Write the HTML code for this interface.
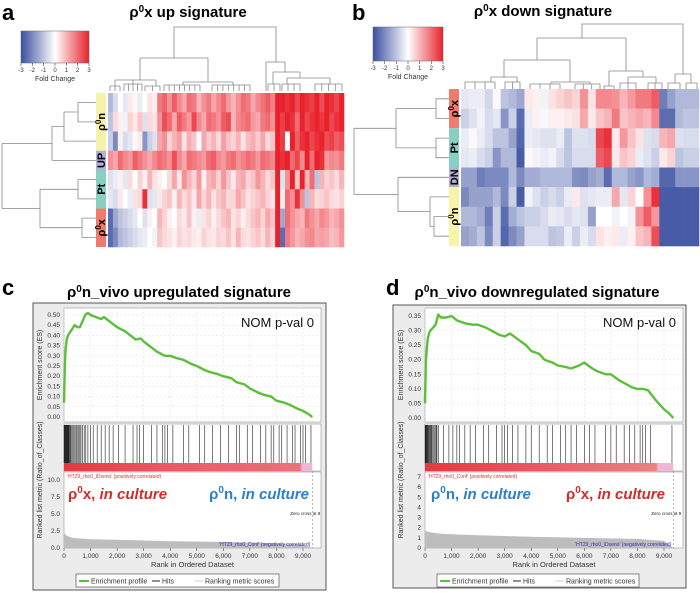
<!DOCTYPE html>
<html><head><meta charset="utf-8">
<style>
html,body{margin:0;padding:0;background:#fff;}
svg{display:block;font-family:"Liberation Sans",Arial,sans-serif;}
</style></head>
<body>
<svg id="fig" width="700" height="593" viewBox="0 0 700 593" xmlns="http://www.w3.org/2000/svg">
<defs>
<linearGradient id="keyGrad" x1="0" x2="1" y1="0" y2="0">
<stop offset="0" stop-color="#3a4fa0"/><stop offset="0.5" stop-color="#ffffff"/><stop offset="1" stop-color="#e8222c"/>
</linearGradient>
<linearGradient id="barGradC" x1="0" x2="1"><stop offset="0" stop-color="#e23a3e"/><stop offset="0.4" stop-color="#e85a62"/><stop offset="0.95" stop-color="#ec7078"/><stop offset="0.96" stop-color="#f0b8d8"/><stop offset="1" stop-color="#f0b8d8"/></linearGradient>
<linearGradient id="barGradD" x1="0" x2="1"><stop offset="0" stop-color="#e23a3e"/><stop offset="0.45" stop-color="#e85a62"/><stop offset="0.93" stop-color="#ee8080"/><stop offset="0.94" stop-color="#f0b8d8"/><stop offset="1" stop-color="#f0b8d8"/></linearGradient>
</defs>

<text x="2" y="20" font-size="22" font-weight="bold">a</text>
<text x="352" y="20" font-size="22" font-weight="bold">b</text>
<text x="2" y="295" font-size="22" font-weight="bold">c</text>
<text x="386" y="295" font-size="22" font-weight="bold">d</text>
<text x="188" y="17" font-size="15" font-weight="bold" text-anchor="middle">ρ<tspan font-size="10" dy="-5">0</tspan><tspan dy="5">x up signature</tspan></text>
<text x="543" y="16" font-size="15" font-weight="bold" text-anchor="middle">ρ<tspan font-size="10" dy="-5">0</tspan><tspan dy="5">x down signature</tspan></text>
<text x="179" y="297" font-size="15" font-weight="bold" text-anchor="middle">ρ<tspan font-size="10" dy="-5">0</tspan><tspan dy="5">n_vivo upregulated signature</tspan></text>
<text x="537" y="297" font-size="15" font-weight="bold" text-anchor="middle">ρ<tspan font-size="10" dy="-5">0</tspan><tspan dy="5">n_vivo downregulated signature</tspan></text>

<g id="heatA"></g>
<g id="heatB"></g>
<g id="gseaC"></g>
<g id="gseaD"></g>
</svg>

<script>
// ---------- Heatmap data ----------
const heatARows = [
[-1.2,-0.6,0,-0.4,0.3,0.1,-0.3,0,0.4,0.2,1.8,2.1,1.5,2.2,1.6,1.2,2.0,1.8,1.0,1.5,1.8,1.2,1.6,2.0,1.4,1.0,1.5,2.0,1.8,1.2,1.6,1.9,2.2,1.7,3.0,3.0,2.8,3.0,2.5,3.0,2.8,2.6,3.0,2.4,3.0,2.8,2.5,3.0],
[-1.0,0.5,0.2,-0.2,0.6,0.3,0.8,-0.5,0.5,0.4,1.5,2.4,2.0,1.2,2.2,1.8,1.4,2.5,1.6,1.2,2.0,1.8,1.5,2.2,2.4,1.0,1.6,1.8,2.0,1.4,1.2,1.8,2.0,1.5,3.0,2.6,3.0,2.8,2.0,3.0,2.5,2.8,3.0,2.7,3.0,2.5,2.8,3.0],
[-0.8,-2.0,0.2,-0.6,-0.4,0.1,0.3,-1.8,-0.8,-0.5,1.2,1.5,0.6,1.0,1.3,0.4,1.1,0.8,0.0,1.2,0.7,1.0,0.5,1.3,0.8,0.6,1.0,0.4,0.9,1.1,0.7,1.2,0.5,0.8,3.0,2.6,0.0,3.0,2.2,2.8,3.0,2.5,2.8,3.0,2.4,2.6,2.2,2.4],
[1.5,1.2,2.0,1.6,1.4,2.2,1.8,1.5,1.2,1.6,2.0,1.8,1.5,2.4,1.6,1.2,2.0,1.8,1.6,1.4,2.0,2.2,1.6,1.4,1.8,2.0,1.5,1.7,2.0,1.8,1.4,2.0,1.8,1.6,3.0,2.8,3.0,2.0,2.5,1.6,3.0,2.0,3.0,2.8,1.4,1.6,1.5,1.8],
[-0.5,-0.3,0.2,-0.4,0.5,0.0,0.6,0.2,1.0,0.4,0.2,0.0,0.5,1.2,0.3,1.5,1.0,0.6,1.4,0.2,1.0,1.2,0.6,1.4,0.8,0.3,1.0,1.2,0.6,0.8,1.4,1.0,0.5,0.8,3.0,-0.5,1.5,3.0,0.8,3.0,1.0,2.0,-1.0,1.0,0.6,0.8,0.5,1.0],
[-0.4,-0.6,0.3,0.0,-0.3,0.4,0.5,2.8,-0.5,-0.4,0.3,0.6,0.8,0.2,1.0,0.5,0.8,0.3,1.2,0.6,1.0,0.4,0.8,1.0,0.5,0.6,1.2,0.8,0.4,0.6,0.8,1.0,0.6,0.4,3.0,0.3,2.0,1.5,2.8,1.5,-1.0,1.0,0.5,0.6,0.8,0.5,0.4,0.6],
[-2.5,-1.5,-1.0,-0.8,-0.6,-0.4,0.0,-0.5,0.2,0.0,1.0,0.6,0.2,0.0,0.5,0.3,0.8,0.2,-0.3,0.4,0.6,0.2,0.5,0.8,1.0,0.4,0.6,0.2,0.5,0.8,1.0,0.6,1.2,0.8,3.0,-1.5,2.0,1.5,1.2,1.0,1.8,1.5,1.2,1.6,1.4,1.0,1.2,1.5],
[-2.5,-2.0,-1.2,-1.0,-0.8,-0.6,-0.4,-0.3,0.0,-0.2,0.8,0.5,0.4,0.2,0.6,0.4,0.5,0.3,0.2,0.6,0.4,0.3,0.6,0.5,0.8,0.4,1.0,0.5,0.4,0.6,0.8,0.5,1.0,0.6,3.0,-2.5,1.8,1.4,1.0,1.2,1.5,1.6,1.2,1.3,1.2,0.9,1.0,1.4]
];
const heatAGroups = ["ρ0n","UP","Pt","ρ0x"];
const heatAGroupSizes = [3,1,2,2];
const heatBRows = [
[-0.4,-0.3,-0.3,-0.7,0.1,-1.0,-1.2,-1.5,0.3,0.2,-0.2,0.4,0.6,0.8,0.6,1.5,0.4,1.6,1.6,1.5,1.0,1.4,1.8,1.8,2.2,-2.2,-1.6,-1.2,-1.2,-1.2],
[-0.8,-0.5,-0.2,-0.6,-0.4,-1.8,-0.8,-2.5,-0.3,0.2,-0.1,0.2,0.2,0.3,0.4,1.2,0.3,0.8,1.0,1.8,0.8,1.0,1.2,1.0,1.6,-2.5,-2.5,-1.2,-1.0,-1.0],
[-0.3,0.1,-0.3,-0.6,-1.0,-1.0,-1.6,-2.6,-0.3,-0.4,-0.5,-0.5,-0.3,-1.0,-0.5,-0.5,-0.6,2.5,2.8,0.3,1.4,0.8,0.4,-0.5,-0.6,1.0,1.2,-0.5,-0.6,-0.6],
[-0.4,-0.3,-0.6,-0.8,-1.8,-1.2,-1.2,-2.8,0.1,-0.2,-0.3,-0.2,-0.6,-1.0,-0.6,-0.6,-0.6,2.2,2.5,0.3,0.8,0.6,-0.3,-0.5,-0.8,0.3,0.6,-1.0,-0.8,-0.8],
[-1.6,-1.6,-2.2,-2.0,-2.0,-2.0,-1.2,-2.0,-1.4,-1.4,-1.2,-1.2,-1.2,-1.2,-1.9,-2.0,-1.6,-1.4,-2.5,-1.2,-1.2,-1.6,-1.8,-1.2,-1.4,-2.6,-2.6,-1.8,-1.8,-1.8],
[-2.0,-1.6,-1.6,-1.6,-1.2,-2.0,-0.8,-2.8,-0.2,-0.5,-0.8,-0.6,-0.8,-0.3,0.3,-0.5,-0.4,-0.3,-0.3,1.2,-0.4,0.6,0.0,1.5,2.8,-2.8,-2.8,-2.8,-2.8,-2.8],
[-1.2,-1.2,-1.4,-2.2,-0.8,-2.5,-1.4,-1.0,-0.8,-0.8,-0.6,-0.3,-0.4,-0.6,-0.4,-0.5,-1.6,0.0,0.0,-0.2,0.0,-0.2,1.5,2.2,1.4,-2.8,-2.8,-2.8,-2.8,-2.8],
[-1.6,-1.4,-1.0,-2.0,-0.8,-2.6,-2.0,-1.6,-0.6,-0.6,-0.6,-1.0,-0.9,-0.3,-0.8,-0.3,-0.6,0.4,0.2,0.3,-0.3,0.2,0.8,1.0,2.4,-2.8,-2.8,-2.8,-2.8,-2.8]
];
const heatBGroups = ["ρ0x","Pt","DN","ρ0n"];
const heatBGroupSizes = [2,2,1,3];
const keyTicks = [-3,-2,-1,0,1,2,3];

// ---------- GSEA data ----------
const esRanksC = [0,30,60,100,150,200,300,400,500,600,700,800,900,1000,1200,1400,1500,1700,2000,2300,2500,2700,2900,3000,3300,3500,3800,4000,4200,4500,4800,5000,5300,5500,5800,6000,6300,6500,6800,7000,7300,7500,7800,8000,8300,8500,8800,9000,9200,9350];
const esValuesC = [0.07,0.25,0.33,0.38,0.40,0.41,0.43,0.45,0.44,0.44,0.47,0.50,0.51,0.50,0.49,0.48,0.49,0.47,0.44,0.42,0.40,0.38,0.385,0.37,0.34,0.32,0.30,0.30,0.29,0.28,0.26,0.25,0.23,0.22,0.21,0.20,0.19,0.17,0.16,0.14,0.12,0.11,0.10,0.08,0.07,0.06,0.04,0.03,0.015,0.0];
const esRanksD = [0,30,60,100,150,200,300,400,500,600,800,1000,1200,1500,1800,2000,2300,2500,2800,3000,3200,3500,3800,4000,4300,4500,4800,5000,5300,5500,5800,6000,6300,6500,6800,7000,7300,7500,7800,8000,8200,8400,8700,9000,9200,9350];
const esValuesD = [0.05,0.19,0.23,0.27,0.29,0.30,0.31,0.32,0.355,0.345,0.345,0.35,0.335,0.325,0.32,0.32,0.31,0.30,0.285,0.28,0.29,0.27,0.25,0.23,0.22,0.20,0.19,0.18,0.175,0.17,0.18,0.19,0.17,0.16,0.15,0.15,0.13,0.12,0.105,0.10,0.10,0.095,0.06,0.03,0.015,0.0];
const hitsC = [5,15,25,35,45,55,70,85,100,120,140,160,180,200,230,260,300,340,380,420,470,520,560,600,640,700,760,820,900,1000,1100,1250,1400,1550,1700,1850,2050,2300,2600,2750,2850,3000,3300,3500,3700,3800,3900,4100,4500,4700,5100,5300,5600,5900,6200,6500,6600,6900,7100,7400,7600,7800,7900,8100,8200,8400,8600,8700,8900,9000,9100,9300];
const hitsD = [5,15,25,35,45,60,75,90,110,130,150,170,200,230,260,300,340,380,420,450,500,700,900,1050,1200,1300,1500,1700,1900,2200,2400,2700,2900,3000,3100,3300,3500,3800,4000,4300,4600,4800,5100,5300,5500,5700,6000,6200,6400,6800,7000,7200,7500,7700,7900,8100,8200,8300,8500,9300];
const metricRanks = [0,100,300,600,1000,2000,4000,6000,8000,9000,9350];
const metricC = [2.2,1.8,1.5,1.4,1.3,1.2,1.0,0.9,0.7,0.5,0.0];
const metricD = [1.7,1.6,1.5,1.4,1.35,1.25,1.1,1.0,0.9,0.7,0.0];
const xTickLabels = ["0","1,000","2,000","3,000","4,000","5,000","6,000","7,000","8,000","9,000"];
const xTickValues = [0,1000,2000,3000,4000,5000,6000,7000,8000,9000];
const esTicksC = [0,0.05,0.1,0.15,0.2,0.25,0.3,0.35,0.4,0.45,0.5];
const esTicksD = [0,0.05,0.1,0.15,0.2,0.25,0.3,0.35];
const metTicksC = [0,2.5,5,7.5,10];
const metTicksD = [0,1,2,3,4,5,6,7];

const NS = "http://www.w3.org/2000/svg";
function mk(parent, tag, attrs, text){
  const e = document.createElementNS(NS, tag);
  for (const k in attrs) e.setAttribute(k, attrs[k]);
  if (text !== undefined) e.textContent = text;
  parent.appendChild(e);
  return e;
}
function colorFor(v){
  v = Math.max(-3, Math.min(3, v));
  let r,g,b;
  if (v < 0){ const t = -v/3; r = 255+(58-255)*t; g = 255+(79-255)*t; b = 255+(160-255)*t; }
  else { const t = v/3; r = 255+(232-255)*t; g = 255+(34-255)*t; b = 255+(44-255)*t; }
  return "rgb("+Math.round(r)+","+Math.round(g)+","+Math.round(b)+")";
}
const groupColor = {"ρ0n":"#f7f3a8","UP":"#b3b0d6","Pt":"#86d1c4","ρ0x":"#f07a6c","DN":"#b3b0d6"};

function comb(x0, x1, yTop, yBot, n){
  let d = "M"+x0+" "+yTop+"H"+x1;
  for (let i=0;i<n;i++){ const x = x0+(x1-x0)*i/(n-1); d += "M"+x.toFixed(1)+" "+yTop+"V"+yBot; }
  return d;
}

function drawHeat(g, rows, groups, sizes, box, keyBox, sideX, dendroCol, dendroRow){
  const nR = rows.length, nC = rows[0].length;
  const cw = (box.x1-box.x0)/nC, rh = (box.y1-box.y0)/nR;
  rows.forEach((row, ri) => {
    row.forEach((v, ci) => {
      const c = mk(g, "rect", {x: box.x0+ci*cw, y: box.y0+ri*rh, width: cw+0.3, height: rh+0.3, fill: colorFor(v)});
      
      
    });
  });
  let r0 = 0;
  groups.forEach((gname, gi) => {
    const y0 = box.y0 + r0*rh, h = sizes[gi]*rh;
    const s = mk(g, "rect", {x: sideX, y: y0, width: 10, height: h, fill: groupColor[gname]});
    
    
    const cy = y0 + h/2, cx = sideX + 5;
    const t = mk(g, "text", {x: 0, y: 0, "font-size": 11, "font-weight": "bold", "text-anchor": "middle", transform: "translate("+(cx+4)+","+cy+") rotate(-90)"});
    
    
    if (gname.startsWith("ρ0")){
      mk(t, "tspan", {}, "ρ");
      mk(t, "tspan", {"font-size": 8, dy: -4}, "0");
      mk(t, "tspan", {dy: 4}, gname.slice(2));
    } else t.textContent = gname;
    r0 += sizes[gi];
  });
  const k = mk(g, "rect", {x: keyBox.x, y: keyBox.y, width: keyBox.w, height: keyBox.h, fill: "url(#keyGrad)", stroke: "#666", "stroke-width": 0.5});
  
  
  keyTicks.forEach(tv => {
    const x = keyBox.x + (tv+3)/6*keyBox.w;
    mk(g, "line", {x1: x, x2: x, y1: keyBox.y+keyBox.h, y2: keyBox.y+keyBox.h+3, stroke: "#444", "stroke-width": 0.6});
    const tl = mk(g, "text", {x: x, y: keyBox.y+keyBox.h+9, "font-size": 6, "text-anchor": "middle", fill: "#333"}, String(tv));
    
    
  });
  const kt = mk(g, "text", {x: keyBox.x+keyBox.w/2, y: keyBox.y+keyBox.h+18, "font-size": 7, "text-anchor": "middle", fill: "#333"}, "Fold Change");
  
  
  const dc = mk(g, "path", {d: dendroCol, fill: "none", stroke: "#888", "stroke-width": 0.8});
  
  
  const dr = mk(g, "path", {d: dendroRow, fill: "none", stroke: "#888", "stroke-width": 0.8});
  
  
}

drawHeat(document.getElementById("heatA"), heatARows, heatAGroups, heatAGroupSizes,
  {x0:108,x1:344,y0:93,y1:247}, {x:21,y:31,w:68,h:32}, 96,
  "M174 58V27H276V62M140 58H208M140 58V80M208 58V82M115 80H156M115 80V86M133 80V84M156 80V86" +
  comb(110,120,86,91,3)+comb(124,142,84,91,5)+comb(145,160,86,91,3)+
  "M183 82H233M183 82V85M233 82V85" + comb(164,200,85,91,8) + comb(212,250,85,91,8) +
  "M266 62H285M266 62V91M285 62V72M273 72H300M273 72V84M300 72V78M287 78H330M287 78V84M330 78V84" +
  comb(268,280,84,91,3) + comb(282,300,84,91,4) + comb(315,342,84,91,5),
  "M96 102.6H78V121.9H96M78 112H64M96 141.1H64M64 112V141.1M64 126.5H52M96 160.4H52M52 126.5V160.4M52 143.5H2" +
  "M96 179.6H78V198.9H96M78 189.3H40M96 218.1H82V237.4H96M82 227.7H40M40 189.3V227.7M40 208.5H2M2 143.5V208.5"
);
drawHeat(document.getElementById("heatB"), heatBRows, heatBGroups, heatBGroupSizes,
  {x0:461,x1:699,y0:89,y1:246}, {x:373,y:27,w:70,h:34}, 449,
  "M582 38V24H683V74M537 38H626M537 38V60M504 60H570M504 60V77M570 60V82M491 77H517M491 77V82M517 77V82M551 82H590M551 82V84M590 82V84" +
  comb(465,495,82,89,4)+comb(505,520,82,89,3)+comb(530,560,84,89,4)+comb(575,600,84,89,4)+
  "M626 38V71M609 71H643M609 71V86M643 71V77M628 77H656M628 77V83M656 77V83" +
  comb(604,614,86,89,2)+comb(620,636,83,89,3)+comb(648,662,83,89,3)+
  "M675 74H691M675 74V83M691 74V83" + comb(668,680,83,89,2) + comb(686,697,83,89,2),
  "M449 98.8H436V118.4H449M436 108.6H396M449 138.1H436V157.7H449M436 147.9H396M396 108.6V147.9M396 128.3H354" +
  "M449 216.6H434V236.2H449M434 226.4H430M449 196.9H430M430 196.9V226.4M430 211.6H398M449 177.3H398M398 177.3V211.6M398 194.5H354M354 128.3V194.5"
);

// ---------- GSEA plots ----------
function drawGsea(g, cfg){
  const xs = r => cfg.x0 + r/9000*(cfg.x9000-cfg.x0);
  const esY = v => cfg.es0 - v/cfg.esTop*(cfg.es0-cfg.esTopY);
  const mY = v => cfg.m0 - v/cfg.mTop*(cfg.m0-cfg.mTopY);
  const right = cfg.plotR;
  const fr = mk(g, "rect", {x: cfg.fx, y: cfg.fy, width: cfg.fw, height: cfg.fh, fill: "#ececec", stroke: "#555", "stroke-width": 1});
  
  
  mk(g, "rect", {x: cfg.x0, y: 308, width: right-cfg.x0, height: 114, fill: "#fff", stroke: "#999", "stroke-width": 0.6});
  mk(g, "rect", {x: cfg.x0, y: 424, width: right-cfg.x0, height: 47, fill: "#fff", stroke: "#999", "stroke-width": 0.6});
  mk(g, "rect", {x: cfg.x0, y: 472, width: right-cfg.x0, height: 76, fill: "#fff", stroke: "#999", "stroke-width": 0.6});
  cfg.esTicks.forEach(t => {
    const y = esY(t);
    mk(g, "line", {x1: cfg.x0, x2: right, y1: y, y2: y, stroke: "#ddd", "stroke-width": 0.5, "stroke-dasharray": "2,2"});
    const tl = mk(g, "text", {x: cfg.x0-4, y: y+2, "font-size": 6.5, "text-anchor": "end", fill: "#333"}, t.toFixed(2));
    
    
  });
  xTickValues.forEach((v, i) => {
    const x = xs(v);
    mk(g, "line", {x1: x, x2: x, y1: 308, y2: 422, stroke: "#ddd", "stroke-width": 0.5, "stroke-dasharray": "2,2"});
    mk(g, "line", {x1: x, x2: x, y1: 548, y2: 551, stroke: "#333", "stroke-width": 0.5});
    const tl = mk(g, "text", {x: x, y: 558, "font-size": 6.5, "text-anchor": "middle", fill: "#333"}, xTickLabels[i]);
    
    
  });
  cfg.mTicks.forEach(t => {
    const y = mY(t);
    const tl = mk(g, "text", {x: cfg.x0-4, y: y+2, "font-size": 6.5, "text-anchor": "end", fill: "#333"}, cfg.mFmt(t));
    
    
  });
  let d = "";
  cfg.esR.forEach((r, i) => { d += (i?"L":"M") + xs(r).toFixed(1) + " " + esY(cfg.esV[i]).toFixed(1); });
  const curve = mk(g, "path", {d: d, fill: "none", stroke: "#5cbf3a", "stroke-width": 2.4, "stroke-linejoin": "round"});
  
  
  cfg.hits.forEach(h => {
    const l = mk(g, "line", {x1: xs(h), x2: xs(h), y1: 425, y2: 463, stroke: "#222", "stroke-width": 0.6});
    
    
  });
  const bar = mk(g, "rect", {x: cfg.x0, y: 463, width: xs(9350)-cfg.x0, height: 8, fill: cfg.grad});
  
  
  let a = "M" + cfg.x0 + " " + mY(0);
  metricRanks.forEach((r, i) => { a += "L" + xs(r).toFixed(1) + " " + mY(cfg.metric[i]).toFixed(1); });
  a += "L" + xs(9350) + " " + mY(0) + "Z";
  const area = mk(g, "path", {d: a, fill: "#bdbdbd"});
  
  
  mk(g, "line", {x1: xs(9350), x2: xs(9350), y1: 471, y2: 548, stroke: "#888", "stroke-width": 0.6, "stroke-dasharray": "2,2"});
  const t1 = mk(g, "text", {x: cfg.x0+3, y: 478, "font-size": 5, fill: "#e03030"}, cfg.posLabel);
   
  const t2 = mk(g, "text", {x: xs(9350)-2, y: 546, "font-size": 5, fill: "#3030b0", "text-anchor": "end"}, cfg.negLabel);
   
  const t3 = mk(g, "text", {x: xs(9350)-22, y: 515, "font-size": 4.5, fill: "#222"}, "Zero cross at 9");
   
  const nom = mk(g, "text", {x: right-7, y: 327, "font-size": 13, "text-anchor": "end", fill: "#111"}, "NOM p-val  0");
   
  cfg.culture.forEach(c => {
    const t = mk(g, "text", {x: c.x, y: 499, "font-size": 15, "font-weight": "bold", fill: c.col, "text-anchor": c.anchor});
     
    mk(t, "tspan", {}, "ρ");
    mk(t, "tspan", {"font-size": 10, dy: -6}, "0");
    mk(t, "tspan", {dy: 6}, c.letter + ", ");
    mk(t, "tspan", {"font-style": "italic"}, "in culture");
  });
  const y1 = mk(g, "text", {x: 0, y: 0, "font-size": 7, "text-anchor": "middle", fill: "#333", transform: "translate("+(cfg.x0-22)+",365) rotate(-90)"}, "Enrichment score (ES)");
   
  const y2 = mk(g, "text", {x: 0, y: 0, "font-size": 7, "text-anchor": "middle", fill: "#333", transform: "translate("+(cfg.x0-22)+",480) rotate(-90)"}, "Ranked list metric (Ratio_of_Classes)");
   
  const xt = mk(g, "text", {x: (cfg.x0+right)/2, y: 567, "font-size": 7.5, "text-anchor": "middle", fill: "#333"}, "Rank in Ordered Dataset");
   
  const lg = mk(g, "rect", {x: cfg.lx, y: 574, width: cfg.lw, height: 13, fill: "#fff", stroke: "#555", "stroke-width": 0.7});
   
  const lx = cfg.lx;
  mk(g, "line", {x1: lx+3, x2: lx+13, y1: 581, y2: 581, stroke: "#5cbf3a", "stroke-width": 2});
  const e1 = mk(g, "text", {x: lx+15, y: 583.5, "font-size": 7, fill: "#333"}, "Enrichment profile");
   
  mk(g, "line", {x1: lx+76, x2: lx+84, y1: 581, y2: 581, stroke: "#222", "stroke-width": 1});
  const e2 = mk(g, "text", {x: lx+86, y: 583.5, "font-size": 7, fill: "#333"}, "Hits");
   
  mk(g, "line", {x1: lx+119, x2: lx+127, y1: 581, y2: 581, stroke: "#ccc", "stroke-width": 1});
  const e3 = mk(g, "text", {x: lx+129, y: 583.5, "font-size": 7, fill: "#333"}, "Ranking metric scores");
   
}

drawGsea(document.getElementById("gseaC"), {
  fx:33, fy:303, fw:293, fh:287, x0:64, x9000:303, plotR:321,
  es0:417, esTop:0.5, esTopY:315, m0:548, mTop:10, mTopY:480,
  esTicks: esTicksC, mTicks: metTicksC, mFmt: t => t.toFixed(1),
  esR: esRanksC, esV: esValuesC, hits: hitsC, metric: metricC, grad: "url(#barGradC)",
  posLabel: "'HT29_rho0_iDxeno' (positively correlated)", negLabel: "'HT29_rho0_Conf' (negatively correlated)",
  culture: [{x:68, letter:"x", col:"#d42a2a", anchor:"start"},{x:309, letter:"n", col:"#2a7fd0", anchor:"end"}],
  lx:76, lw:203
});
drawGsea(document.getElementById("gseaD"), {
  fx:393, fy:305, fw:293, fh:283, x0:425, x9000:664, plotR:683,
  es0:418, esTop:0.35, esTopY:316, m0:548, mTop:7, mTopY:477,
  esTicks: esTicksD, mTicks: metTicksD, mFmt: t => String(t),
  esR: esRanksD, esV: esValuesD, hits: hitsD, metric: metricD, grad: "url(#barGradD)",
  posLabel: "'HT29_rho0_Conf' (positively correlated)", negLabel: "'HT29_rho0_iDxeno' (negatively correlated)",
  culture: [{x:431, letter:"n", col:"#2a7fd0", anchor:"start"},{x:665, letter:"x", col:"#d42a2a", anchor:"end"}],
  lx:437, lw:202
});
</script>
</body></html>
